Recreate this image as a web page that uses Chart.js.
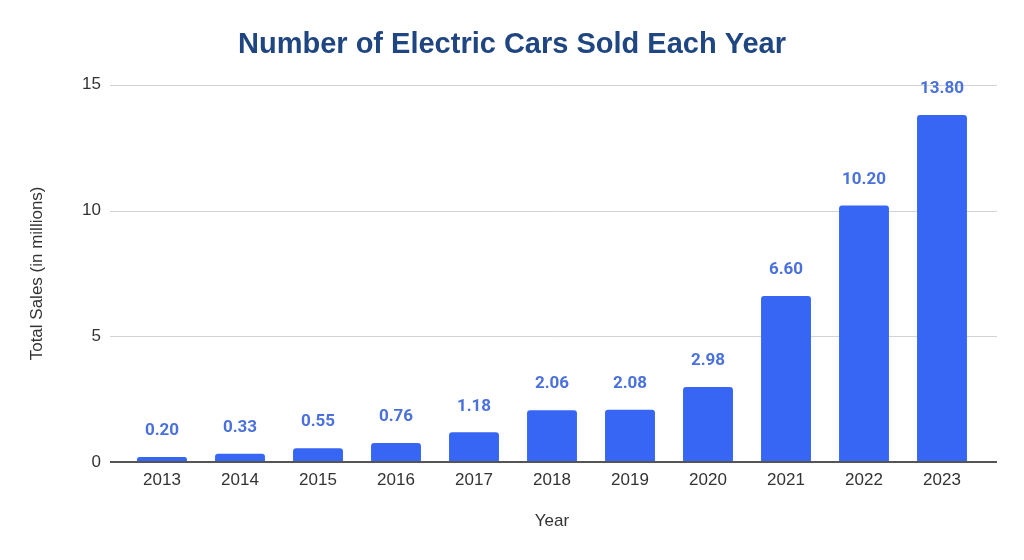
<!DOCTYPE html>
<html>
<head>
<meta charset="utf-8">
<style>
  html, body { margin: 0; padding: 0; background: #fff; }
  #wrap { width: 1024px; height: 560px; }
</style>
<script src="https://cdn.jsdelivr.net/npm/chart.js@4.4.0/dist/chart.umd.min.js"></script>
</head>
<body>
<div id="wrap"><canvas id="salesChart" width="1024" height="560"></canvas></div>
<script>
// chart data
const years = ['2013','2014','2015','2016','2017','2018','2019','2020','2021','2022','2023'];
const sales = [0.20, 0.33, 0.55, 0.76, 1.18, 2.06, 2.08, 2.98, 6.60, 10.20, 13.80];
const yTicks = [0, 5, 10, 15];

const barColor = '#3766f4';
const labelColor = '#4a71dc';
const axisFont = '"Liberation Sans", Arial, sans-serif';

// horizontal grid lines run a bit past the bars on both sides
const gridPlugin = {
  id: 'wideGrid',
  beforeDatasetsDraw(chart) {
    const { ctx, chartArea, scales } = chart;
    ctx.save();
    ctx.strokeStyle = '#d3d3d3';
    ctx.lineWidth = 1;
    yTicks.forEach(v => {
      if (v === 0) return;
      const y = Math.round(scales.y.getPixelForValue(v)) + 0.5;
      ctx.beginPath();
      ctx.moveTo(chartArea.left - 13, y);
      ctx.lineTo(chartArea.right + 16, y);
      ctx.stroke();
    });
    ctx.restore();
  },
  afterDatasetsDraw(chart) {
    const { ctx, chartArea, scales } = chart;
    // base line
    ctx.save();
    ctx.strokeStyle = '#555';
    ctx.lineWidth = 2;
    const y0 = scales.y.getPixelForValue(0);
    ctx.beginPath();
    ctx.moveTo(chartArea.left - 13, y0);
    ctx.lineTo(chartArea.right + 16, y0);
    ctx.stroke();

    // value labels
    ctx.fillStyle = labelColor;
    ctx.font = 'bold 17px Roboto, sans-serif';
    ctx.textAlign = 'center';
    ctx.textBaseline = 'middle';
    const meta = chart.getDatasetMeta(0);
    meta.data.forEach((bar, i) => {
      ctx.fillText(sales[i].toFixed(2), bar.x, bar.y - 26);
    });
    ctx.restore();
  }
};

const ctx = document.getElementById('salesChart').getContext('2d');
const chart = new Chart(ctx, {
  type: 'bar',
  data: {
    labels: years,
    datasets: [{
      data: sales,
      backgroundColor: barColor,
      borderRadius: { topLeft: 3, topRight: 3 },
      borderSkipped: 'bottom',
      categoryPercentage: 1,
      barPercentage: 0.64
    }]
  },
  options: {
    responsive: false,
    animation: false,
    layout: { padding: 0 },
    plugins: {
      legend: { display: false },
      tooltip: { enabled: false },
      title: {
        display: true,
        text: 'Number of Electric Cars Sold Each Year',
        color: '#1f4680',
        font: { family: axisFont, size: 29, weight: 'bold' },
        padding: { top: 28, bottom: 22 }
      }
    },
    scales: {
      x: {
        grid: { display: false, drawTicks: false },
        border: { display: false },
        ticks: {
          color: '#333',
          padding: 8,
          font: { family: axisFont, size: 17 }
        },
        title: {
          display: true,
          text: 'Year',
          color: '#333',
          font: { family: axisFont, size: 17 },
          padding: { top: 0, bottom: 28 }
        },
        afterFit(scale) { scale.height = 98; }
      },
      y: {
        min: 0,
        max: 15,
        grid: { display: false, drawTicks: false },
        border: { display: false },
        afterBuildTicks(scale) { scale.ticks = yTicks.map(v => ({ value: v })); },
        ticks: {
          color: '#333',
          padding: 22,
          font: { family: axisFont, size: 17 }
        },
        title: {
          display: true,
          text: 'Total Sales (in millions)',
          color: '#333',
          font: { family: axisFont, size: 17 },
          padding: { top: 27, bottom: 0 }
        },
        afterFit(scale) { scale.width = 123; }
      },
      // empty right-hand spacer so the title stays centred on the page
      yRight: {
        position: 'right',
        min: 0,
        max: 15,
        grid: { display: false, drawTicks: false },
        border: { display: false },
        ticks: { display: false },
        afterFit(scale) { scale.width = 43; }
      }
    }
  },
  plugins: [gridPlugin]
});
</script>
</body>
</html>
